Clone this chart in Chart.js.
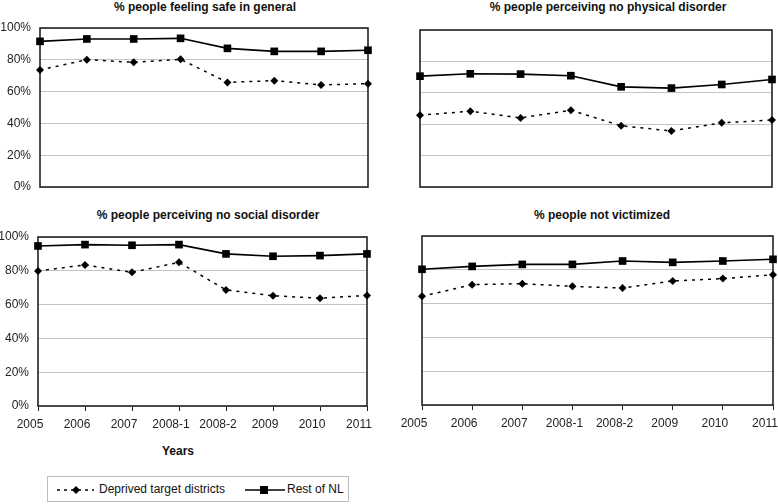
<!DOCTYPE html>
<html><head><meta charset="utf-8">
<script src="https://cdn.jsdelivr.net/npm/chart.js@4/dist/chart.umd.min.js"></script>
<style>
html,body{margin:0;padding:0;background:#fff}
body{width:778px;height:504px;position:relative;overflow:hidden;font-family:"Liberation Sans",Arial,sans-serif;color:#111}
.t{position:absolute;font-weight:bold;font-size:12px;line-height:14px;transform:translateX(-50%);white-space:nowrap}
canvas{position:absolute}
#legend{position:absolute;left:47px;top:476px;width:302px;height:26px;box-sizing:border-box;border:1px solid #bdbdbd}
#legend span{position:absolute;top:5px;font-size:12px;line-height:14px;white-space:nowrap}
#legend svg{position:absolute;top:0;left:0}
</style></head>
<body>
<div class="t" id="t0" style="left:205px;top:0px"></div>
<div class="t" id="t1" style="left:608px;top:0px"></div>
<div class="t" id="t2" style="left:208px;top:208px"></div>
<div class="t" id="t3" style="left:602px;top:208px"></div>
<div class="t" id="xt" style="left:178px;top:444px"></div>
<canvas id="c0" width="380" height="180" style="left:0;top:18px"></canvas>
<canvas id="c1" width="373" height="180" style="left:405px;top:18px"></canvas>
<canvas id="c2" width="380" height="210" style="left:0;top:225px"></canvas>
<canvas id="c3" width="383" height="210" style="left:395px;top:225px"></canvas>
<div id="legend">
<svg width="300" height="24">
<line x1="9" y1="13" x2="46" y2="13" stroke="#000" stroke-width="1.5" stroke-dasharray="3,4"/>
<polygon points="28,9 32,13 28,17 24,13" fill="#000"/>
<line x1="197" y1="13" x2="237" y2="13" stroke="#000" stroke-width="1.5"/>
<rect x="212" y="9" width="8" height="8" fill="#000"/>
</svg>
<span id="l0" style="left:51px"></span>
<span id="l1" style="left:239px"></span>
</div>
<script>
const categories = ['2005','2006','2007','2008-1','2008-2','2009','2010','2011'];
const panelTitles = ['% people feeling safe in general','% people perceiving no physical disorder','% people perceiving no social disorder','% people not victimized'];
const seriesNames = ['Deprived target districts','Rest of NL'];
const xAxisTitle = 'Years';
const yTickStep = 20;

const safeDeprived     = [73.6, 80.1, 78.4, 80.3, 65.8, 66.9, 64.2, 65.0];
const safeRest         = [91.6, 93.1, 93.1, 93.5, 87.2, 85.3, 85.3, 86.0];
const physicalDeprived = [45.7, 48.3, 44.0, 48.9, 39.0, 35.7, 40.9, 42.6];
const physicalRest     = [70.6, 72.1, 71.9, 70.9, 63.8, 63.0, 65.3, 68.5];
const socialDeprived   = [79.9, 83.5, 79.1, 85.0, 68.7, 65.2, 63.8, 65.4];
const socialRest       = [94.7, 95.5, 95.1, 95.5, 90.0, 88.6, 89.0, 90.0];
const victimDeprived   = [64.3, 71.2, 71.8, 70.2, 69.2, 73.4, 74.8, 77.1];
const victimRest       = [80.3, 82.0, 83.2, 83.2, 85.2, 84.4, 85.2, 86.2];

panelTitles.forEach((t,i)=>document.getElementById('t'+i).textContent=t);
document.getElementById('xt').textContent = xAxisTitle;
document.getElementById('l0').textContent = seriesNames[0];
document.getElementById('l1').textContent = seriesNames[1];

const FONT = '"Liberation Sans", Arial, sans-serif';
const frame = {
  id:'frame',
  beforeDatasetsDraw(c){
    const a=c.chartArea, ctx=c.ctx;
    ctx.save(); ctx.strokeStyle='#222'; ctx.lineWidth=1.6;
    ctx.strokeRect(a.left,a.top,a.right-a.left,a.bottom-a.top);
    ctx.restore();
  }
};

function panel(id, deprived, rest, cfg){
  new Chart(document.getElementById(id), {
    type:'line',
    data:{labels:categories, datasets:[
      {label:seriesNames[0], data:deprived, borderColor:'#000', backgroundColor:'#000', borderWidth:1.5, borderDash:[3,5],
       pointStyle:'rectRot', pointRadius:4, pointBorderWidth:0, tension:0, clip:false},
      {label:seriesNames[1], data:rest, borderColor:'#000', backgroundColor:'#000', borderWidth:1.6,
       pointStyle:'rect', pointRadius:5.4, pointBorderWidth:0, tension:0, clip:false}
    ]},
    options:{
      responsive:false, animation:false, events:[],
      layout:{autoPadding:false, padding:{top:cfg.pt, right:cfg.pr, left:0, bottom:0}},
      plugins:{legend:{display:false}, tooltip:{enabled:false}, title:{display:false}},
      scales:{
        x:{type:'category', offset:false,
           grid:{display:cfg.showX, drawOnChartArea:false, drawTicks:true, tickLength:5, color:'#222', lineWidth:1},
           border:{display:false},
           ticks:{display:cfg.showX, font:{family:FONT,size:12}, color:'#222', padding:6, labelOffset:-8, autoSkip:false, maxRotation:0, minRotation:0},
           afterFit(s){ s.height = cfg.xh; s.paddingLeft = 0; s.paddingRight = 0; }},
        y:{min:0, max:100,
           grid:{color:'#c4c4c4', lineWidth:1, drawTicks:false},
           border:{display:false},
           ticks:{display:cfg.showY, stepSize:yTickStep, callback:v=>v+'%', padding:9, font:{family:FONT,size:12}, color:'#222'},
           afterFit(s){ s.width = cfg.yw; s.paddingTop = 0; s.paddingBottom = 0; }}
      }
    },
    plugins:[frame]
  });
}

panel('c0', safeDeprived, safeRest,         {yw:40, pt:10, pr:12, xh:11, showX:false, showY:true});
panel('c1', physicalDeprived, physicalRest, {yw:15, pt:12, pr:6,  xh:11, showX:false, showY:false});
panel('c2', socialDeprived, socialRest,     {yw:38, pt:12, pr:13, xh:29, showX:true,  showY:true});
panel('c3', victimDeprived, victimRest,     {yw:27, pt:11, pr:5,  xh:30, showX:true,  showY:false});
</script>
</body></html>
